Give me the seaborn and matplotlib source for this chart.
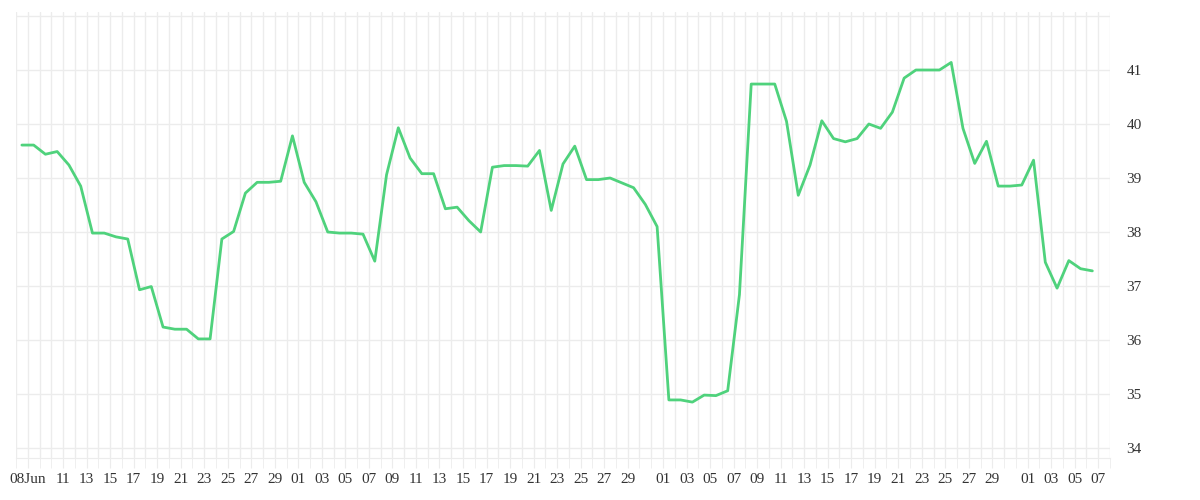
import pandas as pd
import matplotlib
matplotlib.use('Agg')
import matplotlib.pyplot as plt
import matplotlib.dates as mdates
import seaborn as sns

# valores, um ponto por dia (07 Jun a 06 Set)
valores = [39.61, 39.61, 39.44, 39.49, 39.24, 38.85, 37.98, 37.98, 37.91, 37.87,
           36.93, 36.99, 36.24, 36.20, 36.20, 36.02, 36.02, 37.87, 38.01, 38.72,
           38.92, 38.92, 38.94, 39.78, 38.92, 38.56, 38.00, 37.98, 37.98, 37.96,
           37.46, 39.06, 39.93, 39.37, 39.08, 39.08, 38.43, 38.46, 38.21, 38.00,
           39.20, 39.23, 39.23, 39.22, 39.51, 38.40, 39.26, 39.59, 38.97, 38.97,
           39.00, 38.91, 38.82, 38.51, 38.10, 34.89, 34.89, 34.85, 34.98, 34.97,
           35.06, 36.84, 40.74, 40.74, 40.74, 40.05, 38.68, 39.24, 40.06, 39.73,
           39.67, 39.73, 40.00, 39.92, 40.22, 40.85, 41.00, 41.00, 41.00, 41.14,
           39.92, 39.27, 39.68, 38.85, 38.85, 38.87, 39.33, 37.44, 36.96, 37.47,
           37.32, 37.28]
datas = pd.date_range('2018-06-07 12:00', periods=len(valores), freq='D')

# ticks do eixo x: 08Jun e depois os dias ímpares (sem o 31)
ticks_x = [pd.Timestamp('2018-06-08')] + [d for d in pd.date_range('2018-06-10', '2018-09-07')
                                          if d.day % 2 == 1 and d.day != 31]
rotulos_x = ['08Jun'] + [d.strftime('%d') for d in ticks_x[1:]]
ticks_y = [34, 35, 36, 37, 38, 39, 40, 41, 42]
rotulos_y = ['34', '35', '36', '37', '38', '39', '40', '41', '']

df = pd.DataFrame({'Data': datas, 'Valor': valores})

sns.set_style('white')
plt.rcParams['font.family'] = ['Liberation Serif', 'DejaVu Serif']

cor_grade = '#ececec'
fig = plt.figure(figsize=(12, 5), dpi=100)
ax = fig.add_axes([16 / 1200, 42 / 500, (1110 - 16) / 1200, (458 - 12) / 500])

sns.lineplot(data=df, x='Data', y='Valor', ax=ax, color='#4fd27c', linewidth=2.0)

ax.set_xlim(pd.Timestamp('2018-06-07'), pd.Timestamp('2018-09-08'))
ax.set_ylim(34 - 10 / 54, 42 + 4 / 54)

ax.set_xticks(ticks_x)
ax.set_xticklabels(rotulos_x)
ax.xaxis.set_minor_locator(mdates.DayLocator())
ax.set_yticks(ticks_y)
ax.set_yticklabels(rotulos_y)
ax.yaxis.tick_right()

ax.grid(True, which='both', axis='x', color=cor_grade, linewidth=1)
ax.grid(True, which='major', axis='y', color=cor_grade, linewidth=1)

for lado in ['top', 'left', 'right']:
    ax.spines[lado].set_visible(False)
ax.spines['bottom'].set_color(cor_grade)

ax.tick_params(axis='x', which='both', direction='out', length=7, color=cor_grade,
               labelsize=11, labelcolor='#333333', pad=4, bottom=True)
ax.tick_params(axis='y', length=0, pad=12, labelsize=11, labelcolor='#333333')

ax.set_xlabel('')
ax.set_ylabel('')

plt.savefig('out.png', dpi=100)
